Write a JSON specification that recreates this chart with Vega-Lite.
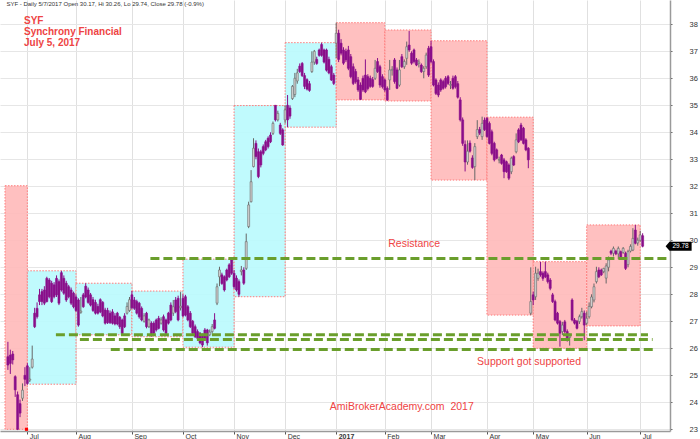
{
"$schema":"https://vega.github.io/schema/vega-lite/v6.json",
"width":670,"height":431,
"autosize":{"type":"none"},
"padding":{"left":0,"top":0,"right":30,"bottom":8},
"background":"white",
"config":{"view":{"stroke":null},"font":"Liberation Sans"},
"datasets":{
"boxes":[
{"x0":-9.19,"x1":0,"lo":23.0,"hi":32.02,"trend":"down"},
{"x0":0,"x1":20,"lo":24.67,"hi":28.87,"trend":"up"},
{"x0":20,"x1":43,"lo":26.5,"hi":28.41,"trend":"up"},
{"x0":43,"x1":64,"lo":26.43,"hi":28.12,"trend":"up"},
{"x0":64,"x1":85,"lo":26.04,"hi":29.3,"trend":"up"},
{"x0":85,"x1":106,"lo":27.91,"hi":34.99,"trend":"up"},
{"x0":106,"x1":127,"lo":34.19,"hi":37.32,"trend":"up"},
{"x0":127,"x1":147,"lo":35.2,"hi":38.06,"trend":"down"},
{"x0":147,"x1":166,"lo":35.16,"hi":37.79,"trend":"down"},
{"x0":166,"x1":189,"lo":32.23,"hi":37.39,"trend":"down"},
{"x0":189,"x1":208,"lo":27.23,"hi":34.56,"trend":"down"},
{"x0":208,"x1":230,"lo":26.0,"hi":29.21,"trend":"down"},
{"x0":230,"x1":252,"lo":26.83,"hi":30.57,"trend":"down"}
],
"levels":[
{"x0":50.6,"x1":263.3,"p":29.33},
{"x0":11.74,"x1":255.2,"p":26.5},
{"x0":21.6,"x1":257.1,"p":26.33},
{"x0":34.3,"x1":258.3,"p":25.96}
],
"bars":[
{"i":-8,"o":25.69,"h":26.24,"l":25.2,"c":25.38},
{"i":-7,"o":25.75,"h":25.95,"l":25.05,"c":25.44},
{"i":-6,"o":25.79,"h":25.9,"l":25.4,"c":25.57},
{"i":-5,"o":24.95,"h":25.0,"l":24.2,"c":24.46},
{"i":-4,"o":24.28,"h":24.4,"l":22.97,"c":23.0},
{"i":-3,"o":23.95,"h":24.1,"l":23.45,"c":23.6},
{"i":-2,"o":24.15,"h":24.7,"l":24.05,"c":24.45},
{"i":-1,"o":25.0,"h":25.3,"l":24.6,"c":24.85},
{"i":0,"o":25.35,"h":25.45,"l":24.65,"c":24.7},
{"i":1,"o":24.82,"h":25.3,"l":24.75,"c":24.86},
{"i":2,"o":25.3,"h":26.1,"l":25.25,"c":25.6},
{"i":3,"o":27.3,"h":27.5,"l":26.75,"c":26.8},
{"i":4,"o":27.48,"h":27.7,"l":27.1,"c":27.17},
{"i":5,"o":27.98,"h":28.2,"l":27.6,"c":27.73},
{"i":6,"o":28.1,"h":28.2,"l":27.6,"c":27.73},
{"i":7,"o":28.16,"h":28.3,"l":27.6,"c":27.67},
{"i":8,"o":28.59,"h":28.65,"l":27.7,"c":27.73},
{"i":9,"o":28.53,"h":28.6,"l":27.85,"c":27.91},
{"i":10,"o":28.41,"h":28.5,"l":27.68,"c":27.73},
{"i":11,"o":28.35,"h":28.45,"l":27.85,"c":27.91},
{"i":12,"o":28.59,"h":28.7,"l":27.9,"c":27.98},
{"i":13,"o":28.47,"h":28.55,"l":27.6,"c":27.67},
{"i":14,"o":28.8,"h":28.87,"l":28.1,"c":28.16},
{"i":15,"o":28.59,"h":28.7,"l":27.98,"c":28.04},
{"i":16,"o":28.41,"h":28.5,"l":27.72,"c":27.79},
{"i":17,"o":28.28,"h":28.35,"l":27.85,"c":27.91},
{"i":18,"o":28.16,"h":28.25,"l":27.6,"c":27.67},
{"i":19,"o":28.04,"h":28.1,"l":27.48,"c":27.54},
{"i":20,"o":27.9,"h":28.0,"l":27.35,"c":27.4},
{"i":21,"o":27.79,"h":27.85,"l":26.8,"c":26.86},
{"i":22,"o":27.33,"h":27.9,"l":27.28,"c":27.38},
{"i":23,"o":27.98,"h":28.05,"l":27.5,"c":27.54},
{"i":24,"o":28.3,"h":28.41,"l":27.85,"c":27.9},
{"i":25,"o":28.16,"h":28.25,"l":27.65,"c":27.7},
{"i":26,"o":27.98,"h":28.05,"l":27.55,"c":27.6},
{"i":27,"o":27.8,"h":27.9,"l":27.35,"c":27.4},
{"i":28,"o":27.7,"h":27.8,"l":27.25,"c":27.3},
{"i":29,"o":27.55,"h":27.65,"l":27.25,"c":27.3},
{"i":30,"o":27.8,"h":27.85,"l":27.3,"c":27.35},
{"i":31,"o":27.7,"h":27.75,"l":27.15,"c":27.2},
{"i":32,"o":27.42,"h":27.5,"l":26.88,"c":26.93},
{"i":33,"o":27.4,"h":27.5,"l":26.9,"c":26.95},
{"i":34,"o":27.3,"h":27.4,"l":26.9,"c":26.95},
{"i":35,"o":27.35,"h":27.45,"l":26.88,"c":26.93},
{"i":36,"o":27.2,"h":27.3,"l":26.85,"c":26.9},
{"i":37,"o":27.3,"h":27.35,"l":26.85,"c":26.9},
{"i":38,"o":27.15,"h":27.2,"l":26.72,"c":26.8},
{"i":39,"o":27.05,"h":27.1,"l":26.5,"c":26.55},
{"i":40,"o":27.2,"h":27.3,"l":26.75,"c":26.8},
{"i":41,"o":27.3,"h":27.7,"l":27.25,"c":27.55},
{"i":42,"o":27.4,"h":27.9,"l":27.35,"c":27.8},
{"i":43,"o":27.98,"h":28.12,"l":27.45,"c":27.5},
{"i":44,"o":27.79,"h":27.9,"l":27.42,"c":27.48},
{"i":45,"o":27.73,"h":27.8,"l":27.25,"c":27.3},
{"i":46,"o":27.67,"h":27.72,"l":27.1,"c":27.17},
{"i":47,"o":27.48,"h":27.55,"l":27.0,"c":27.05},
{"i":48,"o":27.0,"h":27.3,"l":26.95,"c":27.2},
{"i":49,"o":27.3,"h":27.35,"l":26.74,"c":26.8},
{"i":50,"o":26.8,"h":27.1,"l":26.75,"c":27.05},
{"i":51,"o":26.93,"h":27.0,"l":26.43,"c":26.48},
{"i":52,"o":26.93,"h":27.0,"l":26.5,"c":26.56},
{"i":53,"o":27.05,"h":27.1,"l":26.62,"c":26.68},
{"i":54,"o":27.11,"h":27.2,"l":26.7,"c":26.74},
{"i":55,"o":26.93,"h":27.15,"l":26.88,"c":27.05},
{"i":56,"o":27.17,"h":27.25,"l":26.62,"c":26.68},
{"i":57,"o":27.05,"h":27.1,"l":26.5,"c":26.56},
{"i":58,"o":27.3,"h":27.35,"l":26.88,"c":26.93},
{"i":59,"o":27.6,"h":27.7,"l":27.0,"c":27.05},
{"i":60,"o":27.3,"h":27.79,"l":27.2,"c":27.54},
{"i":61,"o":27.79,"h":27.9,"l":27.3,"c":27.36},
{"i":62,"o":27.85,"h":27.95,"l":27.0,"c":27.05},
{"i":63,"o":27.5,"h":28.08,"l":27.4,"c":27.56},
{"i":64,"o":27.85,"h":28.0,"l":27.15,"c":27.2},
{"i":65,"o":27.91,"h":27.98,"l":27.18,"c":27.23},
{"i":66,"o":27.54,"h":27.6,"l":27.0,"c":27.05},
{"i":67,"o":27.3,"h":27.38,"l":26.75,"c":26.8},
{"i":68,"o":27.0,"h":27.05,"l":26.5,"c":26.56},
{"i":69,"o":26.8,"h":26.88,"l":26.38,"c":26.43},
{"i":70,"o":26.62,"h":26.7,"l":26.3,"c":26.37},
{"i":71,"o":26.56,"h":26.6,"l":26.15,"c":26.2},
{"i":72,"o":26.49,"h":26.55,"l":26.04,"c":26.12},
{"i":73,"o":26.68,"h":26.75,"l":26.3,"c":26.37},
{"i":74,"o":26.68,"h":26.72,"l":26.1,"c":26.2},
{"i":75,"o":26.5,"h":26.7,"l":26.45,"c":26.6},
{"i":76,"o":26.62,"h":26.9,"l":26.55,"c":26.8},
{"i":77,"o":27.05,"h":27.3,"l":26.7,"c":26.74},
{"i":78,"o":27.67,"h":28.4,"l":27.6,"c":28.28},
{"i":79,"o":28.65,"h":29.02,"l":28.3,"c":28.9},
{"i":80,"o":28.72,"h":28.8,"l":28.35,"c":28.4},
{"i":81,"o":28.65,"h":28.7,"l":28.1,"c":28.16},
{"i":82,"o":28.9,"h":28.95,"l":28.48,"c":28.53},
{"i":83,"o":29.09,"h":29.15,"l":28.6,"c":28.65},
{"i":84,"o":29.27,"h":29.3,"l":28.72,"c":28.78},
{"i":85,"o":28.78,"h":28.9,"l":28.2,"c":28.28},
{"i":86,"o":28.6,"h":28.7,"l":28.1,"c":28.16},
{"i":87,"o":28.47,"h":28.55,"l":27.91,"c":28.0},
{"i":88,"o":28.84,"h":29.05,"l":28.7,"c":28.9},
{"i":89,"o":28.9,"h":29.0,"l":28.35,"c":28.41},
{"i":90,"o":28.96,"h":30.25,"l":28.9,"c":29.95},
{"i":91,"o":30.51,"h":31.43,"l":30.45,"c":31.31},
{"i":92,"o":31.43,"h":32.6,"l":31.4,"c":32.17},
{"i":93,"o":32.73,"h":33.78,"l":32.7,"c":33.41},
{"i":94,"o":33.59,"h":33.7,"l":33.0,"c":33.1},
{"i":95,"o":33.28,"h":33.4,"l":32.3,"c":32.36},
{"i":96,"o":33.28,"h":33.35,"l":32.7,"c":32.79},
{"i":97,"o":33.47,"h":33.55,"l":33.15,"c":33.22},
{"i":98,"o":33.65,"h":33.72,"l":33.3,"c":33.35},
{"i":99,"o":33.78,"h":33.85,"l":33.4,"c":33.47},
{"i":100,"o":33.9,"h":34.0,"l":33.6,"c":33.65},
{"i":101,"o":33.96,"h":34.4,"l":33.9,"c":34.33},
{"i":102,"o":35.0,"h":35.0,"l":34.4,"c":34.46},
{"i":103,"o":34.46,"h":34.8,"l":34.4,"c":34.7},
{"i":104,"o":34.27,"h":34.35,"l":33.9,"c":33.96},
{"i":105,"o":34.09,"h":34.15,"l":33.5,"c":33.53},
{"i":106,"o":34.46,"h":35.0,"l":34.33,"c":34.83},
{"i":107,"o":35.0,"h":35.38,"l":34.19,"c":34.46},
{"i":108,"o":34.9,"h":35.0,"l":34.5,"c":34.6},
{"i":109,"o":35.25,"h":35.75,"l":35.2,"c":35.7},
{"i":110,"o":35.4,"h":36.2,"l":35.3,"c":36.0},
{"i":111,"o":35.9,"h":36.35,"l":35.8,"c":36.2},
{"i":112,"o":36.45,"h":36.55,"l":36.2,"c":36.25},
{"i":113,"o":36.55,"h":36.6,"l":36.05,"c":36.1},
{"i":114,"o":36.1,"h":36.2,"l":35.6,"c":35.7},
{"i":115,"o":35.95,"h":36.0,"l":35.55,"c":35.6},
{"i":116,"o":35.8,"h":35.9,"l":35.5,"c":35.55},
{"i":117,"o":36.25,"h":37.0,"l":36.2,"c":36.6},
{"i":118,"o":36.6,"h":37.05,"l":36.5,"c":37.0},
{"i":119,"o":36.7,"h":36.8,"l":36.5,"c":36.55},
{"i":120,"o":37.05,"h":37.1,"l":36.8,"c":36.85},
{"i":121,"o":37.25,"h":37.32,"l":36.8,"c":36.85},
{"i":122,"o":37.05,"h":37.1,"l":36.55,"c":36.6},
{"i":123,"o":37.05,"h":37.1,"l":36.25,"c":36.3},
{"i":124,"o":36.7,"h":36.8,"l":36.15,"c":36.2},
{"i":125,"o":36.43,"h":36.5,"l":35.9,"c":35.94},
{"i":126,"o":36.12,"h":36.2,"l":35.75,"c":35.81},
{"i":127,"o":37.3,"h":38.06,"l":36.75,"c":37.67},
{"i":128,"o":37.67,"h":37.8,"l":36.6,"c":36.7},
{"i":129,"o":37.3,"h":37.45,"l":36.85,"c":36.93},
{"i":130,"o":37.05,"h":37.15,"l":36.5,"c":36.56},
{"i":131,"o":37.0,"h":37.1,"l":36.6,"c":36.68},
{"i":132,"o":37.05,"h":37.2,"l":36.3,"c":36.37},
{"i":133,"o":36.8,"h":36.9,"l":36.0,"c":36.06},
{"i":134,"o":36.43,"h":36.55,"l":35.75,"c":35.81},
{"i":135,"o":36.25,"h":36.35,"l":35.8,"c":35.87},
{"i":136,"o":35.94,"h":36.05,"l":35.5,"c":35.57},
{"i":137,"o":35.75,"h":35.85,"l":35.2,"c":35.22},
{"i":138,"o":36.0,"h":36.1,"l":35.5,"c":35.57},
{"i":139,"o":36.12,"h":36.7,"l":35.45,"c":35.5},
{"i":140,"o":36.06,"h":36.15,"l":35.55,"c":35.62},
{"i":141,"o":36.0,"h":36.1,"l":35.65,"c":35.7},
{"i":142,"o":35.95,"h":36.05,"l":35.65,"c":35.7},
{"i":143,"o":36.0,"h":36.68,"l":35.94,"c":36.37},
{"i":144,"o":36.62,"h":36.75,"l":36.2,"c":36.25},
{"i":145,"o":36.43,"h":36.5,"l":35.65,"c":35.75},
{"i":146,"o":36.06,"h":36.15,"l":35.62,"c":35.69},
{"i":147,"o":35.94,"h":36.0,"l":35.5,"c":35.57},
{"i":148,"o":35.63,"h":35.7,"l":35.16,"c":35.2},
{"i":149,"o":35.94,"h":36.68,"l":35.57,"c":36.31},
{"i":150,"o":36.3,"h":36.45,"l":36.1,"c":36.33},
{"i":151,"o":36.68,"h":36.75,"l":35.8,"c":35.88},
{"i":152,"o":36.31,"h":36.4,"l":35.6,"c":35.63},
{"i":153,"o":35.75,"h":36.68,"l":35.69,"c":36.31},
{"i":154,"o":36.8,"h":36.9,"l":36.38,"c":36.43},
{"i":155,"o":36.43,"h":36.7,"l":36.35,"c":36.62},
{"i":156,"o":36.74,"h":37.36,"l":36.5,"c":37.17},
{"i":157,"o":37.23,"h":37.75,"l":36.98,"c":37.05},
{"i":158,"o":36.93,"h":37.0,"l":36.5,"c":36.56},
{"i":159,"o":37.05,"h":37.1,"l":36.55,"c":36.62},
{"i":160,"o":36.68,"h":36.75,"l":36.45,"c":36.49},
{"i":161,"o":36.55,"h":36.7,"l":36.4,"c":36.6},
{"i":162,"o":36.49,"h":36.55,"l":36.2,"c":36.25},
{"i":163,"o":36.25,"h":36.45,"l":36.0,"c":36.37},
{"i":164,"o":36.43,"h":36.95,"l":36.35,"c":36.86},
{"i":165,"o":37.11,"h":37.2,"l":36.05,"c":36.12},
{"i":166,"o":37.17,"h":37.39,"l":36.55,"c":36.62},
{"i":167,"o":36.62,"h":36.7,"l":35.7,"c":35.75},
{"i":168,"o":35.94,"h":36.0,"l":35.38,"c":35.44},
{"i":169,"o":35.75,"h":35.85,"l":35.3,"c":35.38},
{"i":170,"o":35.94,"h":36.0,"l":35.5,"c":35.57},
{"i":171,"o":35.88,"h":35.95,"l":35.58,"c":35.63},
{"i":172,"o":36.0,"h":36.08,"l":35.62,"c":35.69},
{"i":173,"o":36.06,"h":36.12,"l":35.75,"c":35.81},
{"i":174,"o":35.74,"h":35.9,"l":35.6,"c":35.77},
{"i":175,"o":36.0,"h":36.1,"l":35.58,"c":35.63},
{"i":176,"o":36.06,"h":36.12,"l":35.62,"c":35.69},
{"i":177,"o":35.8,"h":35.9,"l":35.25,"c":35.3},
{"i":178,"o":35.2,"h":35.3,"l":34.4,"c":34.46},
{"i":179,"o":34.46,"h":34.55,"l":33.5,"c":33.59},
{"i":180,"o":33.55,"h":33.7,"l":32.55,"c":32.9},
{"i":181,"o":32.9,"h":33.7,"l":32.8,"c":33.3},
{"i":182,"o":33.6,"h":33.7,"l":33.25,"c":33.3},
{"i":183,"o":33.05,"h":33.15,"l":32.65,"c":32.7},
{"i":184,"o":32.73,"h":33.6,"l":32.23,"c":33.47},
{"i":185,"o":33.84,"h":34.45,"l":33.75,"c":34.1},
{"i":186,"o":34.1,"h":34.2,"l":33.9,"c":33.97},
{"i":187,"o":33.84,"h":34.58,"l":33.72,"c":34.33},
{"i":188,"o":34.45,"h":34.55,"l":34.05,"c":34.1},
{"i":189,"o":34.52,"h":34.56,"l":33.8,"c":33.84},
{"i":190,"o":34.33,"h":34.4,"l":33.55,"c":33.59},
{"i":191,"o":34.02,"h":34.1,"l":33.15,"c":33.22},
{"i":192,"o":33.59,"h":33.65,"l":32.92,"c":32.98},
{"i":193,"o":33.35,"h":33.4,"l":33.0,"c":33.04},
{"i":194,"o":32.97,"h":33.1,"l":32.85,"c":32.99},
{"i":195,"o":33.16,"h":33.2,"l":32.8,"c":32.85},
{"i":196,"o":32.98,"h":33.05,"l":32.3,"c":32.54},
{"i":197,"o":32.91,"h":32.95,"l":32.5,"c":32.54},
{"i":198,"o":32.79,"h":32.85,"l":32.23,"c":32.3},
{"i":199,"o":32.54,"h":33.1,"l":32.45,"c":33.04},
{"i":200,"o":33.1,"h":33.15,"l":32.75,"c":32.79},
{"i":201,"o":33.28,"h":33.96,"l":33.22,"c":33.72},
{"i":202,"o":34.09,"h":34.15,"l":33.6,"c":33.65},
{"i":203,"o":34.27,"h":34.35,"l":33.68,"c":33.72},
{"i":204,"o":34.15,"h":34.2,"l":33.55,"c":33.59},
{"i":205,"o":33.72,"h":33.78,"l":33.3,"c":33.35},
{"i":206,"o":33.41,"h":33.45,"l":32.67,"c":32.98},
{"i":207,"o":27.3,"h":29.0,"l":27.23,"c":27.73},
{"i":208,"o":27.98,"h":28.1,"l":27.6,"c":27.79},
{"i":209,"o":27.91,"h":29.02,"l":27.79,"c":28.78},
{"i":210,"o":28.59,"h":28.95,"l":28.5,"c":28.78},
{"i":211,"o":28.84,"h":29.2,"l":28.65,"c":28.72},
{"i":212,"o":28.78,"h":28.85,"l":28.5,"c":28.59},
{"i":213,"o":28.84,"h":29.21,"l":28.6,"c":28.65},
{"i":214,"o":28.72,"h":28.8,"l":28.4,"c":28.47},
{"i":215,"o":28.53,"h":28.6,"l":28.15,"c":28.22},
{"i":216,"o":27.98,"h":28.05,"l":27.68,"c":27.73},
{"i":217,"o":27.73,"h":27.8,"l":27.0,"c":27.05},
{"i":218,"o":27.3,"h":27.35,"l":26.88,"c":26.93},
{"i":219,"o":26.99,"h":27.05,"l":26.06,"c":26.56},
{"i":220,"o":26.62,"h":26.98,"l":26.49,"c":26.86},
{"i":221,"o":26.98,"h":27.05,"l":26.55,"c":26.62},
{"i":222,"o":26.62,"h":26.7,"l":26.25,"c":26.31},
{"i":223,"o":26.4,"h":26.55,"l":26.1,"c":26.45},
{"i":224,"o":27.79,"h":27.85,"l":27.0,"c":27.05},
{"i":225,"o":27.05,"h":27.12,"l":26.88,"c":26.93},
{"i":226,"o":27.0,"h":27.05,"l":26.7,"c":26.74},
{"i":227,"o":26.99,"h":27.25,"l":26.9,"c":27.17},
{"i":228,"o":27.17,"h":27.5,"l":27.1,"c":27.36},
{"i":229,"o":27.3,"h":27.4,"l":26.3,"c":26.86},
{"i":230,"o":26.93,"h":27.36,"l":26.86,"c":27.11},
{"i":231,"o":27.17,"h":27.7,"l":27.1,"c":27.55},
{"i":232,"o":27.54,"h":28.0,"l":27.48,"c":27.9},
{"i":233,"o":27.79,"h":28.4,"l":27.7,"c":28.28},
{"i":234,"o":28.47,"h":29.02,"l":28.4,"c":28.84},
{"i":235,"o":28.9,"h":29.0,"l":28.6,"c":28.65},
{"i":236,"o":28.9,"h":28.95,"l":28.68,"c":28.72},
{"i":237,"o":28.84,"h":28.98,"l":28.78,"c":28.96},
{"i":238,"o":28.6,"h":29.15,"l":28.4,"c":29.05},
{"i":239,"o":29.0,"h":29.4,"l":28.85,"c":29.27},
{"i":240,"o":29.6,"h":29.65,"l":29.45,"c":29.52},
{"i":241,"o":29.52,"h":29.77,"l":29.4,"c":29.7},
{"i":242,"o":29.6,"h":29.65,"l":29.45,"c":29.5},
{"i":243,"o":29.5,"h":29.77,"l":29.3,"c":29.7},
{"i":244,"o":29.58,"h":29.62,"l":29.28,"c":29.33},
{"i":245,"o":29.55,"h":29.75,"l":29.5,"c":29.7},
{"i":246,"o":29.52,"h":29.58,"l":28.9,"c":28.96},
{"i":247,"o":29.1,"h":29.65,"l":29.0,"c":29.58},
{"i":248,"o":29.6,"h":29.85,"l":29.55,"c":29.77},
{"i":249,"o":29.64,"h":30.45,"l":29.6,"c":30.07},
{"i":250,"o":30.38,"h":30.57,"l":29.85,"c":29.89},
{"i":251,"o":29.9,"h":30.1,"l":29.8,"c":30.0},
{"i":252,"o":30.0,"h":30.35,"l":29.95,"c":30.2},
{"i":253,"o":30.17,"h":30.26,"l":29.74,"c":29.78}
]
},
"layer":[
{"data":{"name":"boxes"},
 "mark":{"type":"rect","fillOpacity":0.9,"stroke":"#ff7a7a","strokeWidth":1,"strokeDash":[1.5,1.5],"clip":true},
 "encoding":{
  "x":{"field":"x0","type":"quantitative","scale":{"domain":[-9.19,262.2],"nice":false,"zero":false},
   "axis":{"title":null,"orient":"bottom","values":[0,20,43,64,85,106,127,147,166,189,208,230,252],
    "labelExpr":"['Jul','Aug','Sep','Oct','Nov','Dec','2017','Feb','Mar','Apr','May','Jun','Jul'][indexof([0,20,43,64,85,106,127,147,166,189,208,230,252], datum.value)]",
    "grid":true,"gridColor":"#e0e0e0","gridWidth":1,"domainColor":"#9a9a9a","domainWidth":1.5,
    "tickColor":"#555555","tickSize":3,"labelAlign":"left","labelBaseline":"top","labelPadding":-2,"labelOffset":2,
    "labelFontSize":7,"labelColor":"#333333","labelFlush":false,"labelOverlap":false,
    "labelFontWeight":{"condition":{"test":"datum.value==127","value":"bold"},"value":"normal"}}},
  "x2":{"field":"x1"},
  "y":{"field":"lo","type":"quantitative","scale":{"domain":[22.937,38.9],"nice":false,"zero":false},
   "axis":{"title":null,"orient":"right","values":[23,24,25,26,27,28,29,30,31,32,33,34,35,36,37,38],"tickCount":16,
    "grid":true,"gridColor":"#e6e6e6","gridWidth":1,"domainColor":"#9a9a9a","domainWidth":1.5,
    "tickColor":"#666666","tickSize":2,"labelPadding":17,"labelFontSize":7.5,"labelColor":"#333333",
    "labelAlign":"left","labelBaseline":"middle","labelFlush":false,"labelOverlap":false}},
  "y2":{"field":"hi"},
  "fill":{"field":"trend","type":"nominal","scale":{"domain":["down","up"],"range":["#ffb9b9","#b9fafd"]},"legend":null}
 }},
{"data":{"name":"bars"},
 "mark":{"type":"rule","strokeWidth":1},
 "encoding":{
  "x":{"field":"i","type":"quantitative","axis":{"title":null,"values":[0,20,43,64,85,106,127,147,166,189,208,230,252]}},
  "y":{"field":"l","type":"quantitative","axis":{"title":null,"values":[23,24,25,26,27,28,29,30,31,32,33,34,35,36,37,38],"tickCount":16,"labelOverlap":false}},
  "y2":{"field":"h"},
  "color":{"condition":{"test":"datum.c > datum.o","value":"#666666"},"value":"#8a0e8a"}
 }},
{"data":{"name":"bars"},
 "mark":{"type":"bar","width":2,"strokeWidth":0.6},
 "encoding":{
  "x":{"field":"i","type":"quantitative","axis":{"title":null,"values":[0,20,43,64,85,106,127,147,166,189,208,230,252]}},
  "y":{"field":"o","type":"quantitative","axis":{"title":null,"values":[23,24,25,26,27,28,29,30,31,32,33,34,35,36,37,38],"tickCount":16,"labelOverlap":false}},
  "y2":{"field":"c"},
  "fill":{"condition":{"test":"datum.c > datum.o","value":"#d0d0d0"},"value":"#8a0e8a"},
  "stroke":{"condition":{"test":"datum.c > datum.o","value":"#6a6a6a"},"value":"#8a0e8a"}
 }},
{"data":{"name":"levels"},
 "mark":{"type":"rule","color":"#6a9e2c","strokeWidth":3,"strokeDash":[9,4]},
 "encoding":{
  "x":{"field":"x0","type":"quantitative","axis":{"title":null,"values":[0,20,43,64,85,106,127,147,166,189,208,230,252]}},
  "x2":{"field":"x1"},
  "y":{"field":"p","type":"quantitative","axis":{"title":null,"values":[23,24,25,26,27,28,29,30,31,32,33,34,35,36,37,38],"tickCount":16,"labelOverlap":false}}
 }},
{"data":{"values":[{"x":-0.35,"y":23.0}]},
 "mark":{"type":"point","shape":"square","filled":true,"color":"#ff0000","size":10,"opacity":1},
 "encoding":{
  "x":{"field":"x","type":"quantitative","axis":{"title":null,"values":[0,20,43,64,85,106,127,147,166,189,208,230,252]}},
  "y":{"field":"y","type":"quantitative","axis":{"title":null,"values":[23,24,25,26,27,28,29,30,31,32,33,34,35,36,37,38],"tickCount":16,"labelOverlap":false}}
 }},
{"data":{"values":[{"x":-8.6,"y":38.74,"t":"SYF - Daily 5/7/2017 Open 30.17, Hi 30.26, Lo 29.74, Close 29.78 (-0.9%)"}]},
 "mark":{"type":"text","align":"left","baseline":"middle","fontSize":6,"color":"#333333"},
 "encoding":{
  "x":{"field":"x","type":"quantitative","axis":{"title":null,"values":[0,20,43,64,85,106,127,147,166,189,208,230,252]}},
  "y":{"field":"y","type":"quantitative","axis":{"title":null,"values":[23,24,25,26,27,28,29,30,31,32,33,34,35,36,37,38],"tickCount":16,"labelOverlap":false}},
  "text":{"field":"t"}
 }},
{"data":{"values":[{"x":-1.37,"y":38.12,"t":"SYF"},{"x":-1.37,"y":37.70,"t":"Synchrony Financial"},{"x":-1.37,"y":37.31,"t":"July 5, 2017"}]},
 "mark":{"type":"text","align":"left","baseline":"middle","fontSize":10,"fontWeight":"bold","color":"#ee4444"},
 "encoding":{
  "x":{"field":"x","type":"quantitative","axis":{"title":null,"values":[0,20,43,64,85,106,127,147,166,189,208,230,252]}},
  "y":{"field":"y","type":"quantitative","axis":{"title":null,"values":[23,24,25,26,27,28,29,30,31,32,33,34,35,36,37,38],"tickCount":16,"labelOverlap":false}},
  "text":{"field":"t"}
 }},
{"data":{"values":[{"x":159.07,"y":29.85,"t":"Resistance"},{"x":206.3,"y":25.48,"t":"Support got supported"},{"x":153.97,"y":23.815,"t":"AmiBrokerAcademy.com\u00a0 2017"}]},
 "mark":{"type":"text","align":"center","baseline":"middle","fontSize":10.5,"color":"#ee4444"},
 "encoding":{
  "x":{"field":"x","type":"quantitative","axis":{"title":null,"values":[0,20,43,64,85,106,127,147,166,189,208,230,252]}},
  "y":{"field":"y","type":"quantitative","axis":{"title":null,"values":[23,24,25,26,27,28,29,30,31,32,33,34,35,36,37,38],"tickCount":16,"labelOverlap":false}},
  "text":{"field":"t"}
 }},
{"data":{"values":[{"x":267.8,"y":29.78}]},
 "mark":{"type":"point","shape":"M-1,0L-0.7,-0.34L1,-0.34L1,0.34L-0.7,0.34Z","filled":true,"color":"#000000","size":676,"opacity":1,"clip":false},
 "encoding":{
  "x":{"field":"x","type":"quantitative","axis":{"title":null,"values":[0,20,43,64,85,106,127,147,166,189,208,230,252]}},
  "y":{"field":"y","type":"quantitative","axis":{"title":null,"values":[23,24,25,26,27,28,29,30,31,32,33,34,35,36,37,38],"tickCount":16,"labelOverlap":false}}
 }},
{"data":{"values":[{"x":268.6,"y":29.78,"t":"29.78"}]},
 "mark":{"type":"text","align":"center","baseline":"middle","fontSize":6.5,"color":"#ffffff"},
 "encoding":{
  "x":{"field":"x","type":"quantitative","axis":{"title":null,"values":[0,20,43,64,85,106,127,147,166,189,208,230,252]}},
  "y":{"field":"y","type":"quantitative","axis":{"title":null,"values":[23,24,25,26,27,28,29,30,31,32,33,34,35,36,37,38],"tickCount":16,"labelOverlap":false}},
  "text":{"field":"t"}
 }}
]
}
